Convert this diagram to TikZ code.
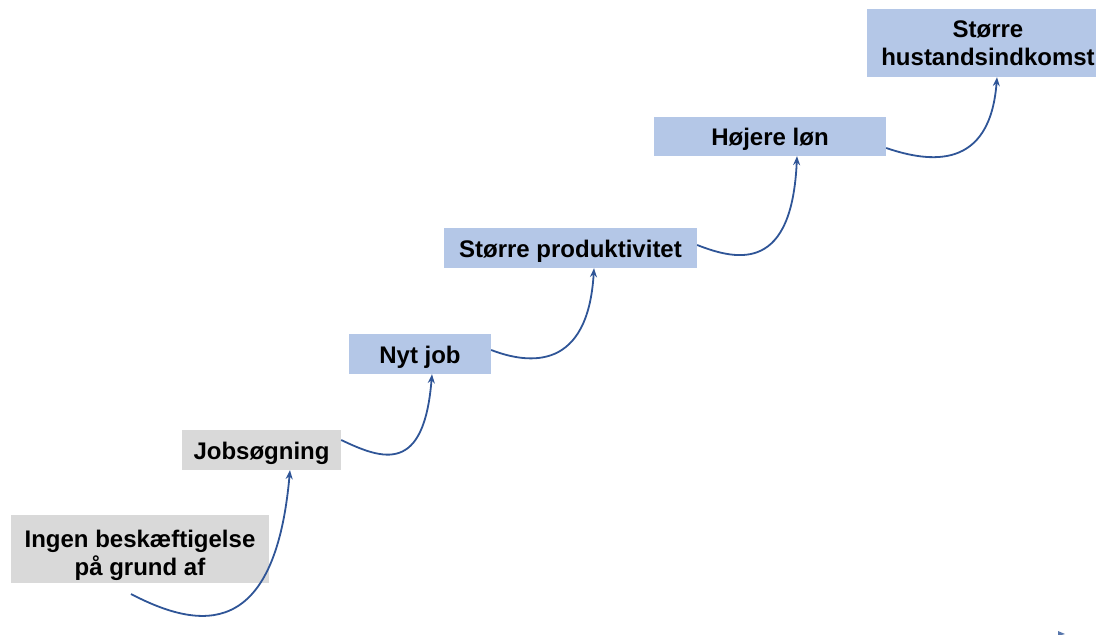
\documentclass[tikz,border=0pt]{standalone}
\usepackage{fontspec}
\setmainfont{Liberation Sans}
\usetikzlibrary{arrows.meta}
\definecolor{stepgray}{HTML}{D9D9D9}
\definecolor{stepblue}{HTML}{B4C7E7}
\definecolor{linkblue}{HTML}{2F5597}
\tikzset{
  box/.style={inner sep=0pt, align=center, font=\fontsize{24}{28}\selectfont\bfseries},
  oneline/.style={box, text height=20pt, text depth=2pt, minimum height=40pt},
  link/.style={linkblue, line width=1.8pt, -{Stealth[length=9pt, width=7pt]}}
}
\begin{document}
\begin{tikzpicture}[x=1pt, y=-1pt]
  \useasboundingbox (0, 0) rectangle (1096, 635);

  \node[box, fill=stepgray, minimum width=258pt, minimum height=68pt] (ingen) at (140, 549) {\rule{0pt}{4pt}\\[-1pt]Ingen beskæftigelse\\på grund af};
  \node[oneline, fill=stepgray, minimum width=159pt] (jobsog) at (261.5, 450) {Jobsøgning};
  \node[oneline, fill=stepblue, minimum width=142pt] (nytjob) at (420, 354) {Nyt job};
  \node[oneline, fill=stepblue, minimum width=253pt] (produkt) at (570.5, 248) {Større produktivitet};
  \node[oneline, fill=stepblue, minimum width=232pt, minimum height=39pt] (loen) at (770, 136.5) {Højere løn};
  \node[box, fill=stepblue, minimum width=242pt, minimum height=68pt] (indkomst) at (988, 43) {Større\\hustandsindkomst};

  \coordinate (start) at (131, 594);

  \draw[link] (start) .. controls +(69, 36) and +(-15, 170) .. ([xshift=28.5pt]jobsog.south);
  \draw[link] ([yshift=10pt]jobsog.east) .. controls +(42, 20) and +(-8, 100) .. ([xshift=12pt]nytjob.south);
  \draw[link] ([yshift=4pt]nytjob.east) .. controls +(39, 15) and +(-6, 102) .. ([xshift=23.5pt]produkt.south);
  \draw[link] ([yshift=3pt]produkt.east) .. controls +(43, 17) and +(-5, 114) .. ([xshift=27pt]loen.south);
  \draw[link] ([yshift=-11.5pt]loen.east) .. controls +(44, 15) and +(-7, 93) .. ([xshift=9pt]indkomst.south);

  \fill[linkblue!80] (1058, 631) -- (1065, 634) -- (1058, 636) -- cycle;
\end{tikzpicture}
\end{document}
